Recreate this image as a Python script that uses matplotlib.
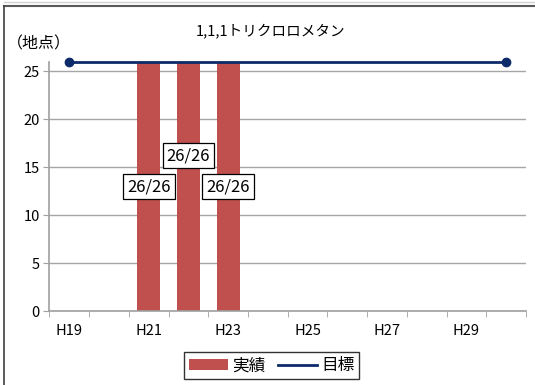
import numpy as np
import matplotlib
matplotlib.use('Agg')
import matplotlib.pyplot as plt
from matplotlib.lines import Line2D
from matplotlib.patches import Patch

plt.rcParams['font.family'] = ['Noto Sans CJK JP', 'DejaVu Sans']

years = ['H19', 'H20', 'H21', 'H22', 'H23', 'H24', 'H25', 'H26', 'H27', 'H28', 'H29', 'H30']
actual = [0, 0, 26, 26, 26, 0, 0, 0, 0, 0, 0, 0]
target = [26, 26, 26, 26, 26, 26, 26, 26, 26, 26, 26, 26]
bar_labels = ['', '', '26/26', '26/26', '26/26', '', '', '', '', '', '', '']
label_y = [0, 0, 13, 16.2, 13, 0, 0, 0, 0, 0, 0, 0]
tick_labels = ['H19', '', 'H21', '', 'H23', '', 'H25', '', 'H27', '', 'H29', '']

bar_color = '#C0504D'
line_color = '#0d2a6b'

fig = plt.figure(figsize=(5.35, 3.85), dpi=100)
ax = fig.add_axes([0.0925, 0.191, 0.8905, 0.649])

x = np.arange(len(years))
ax.bar(x, actual, width=0.58, color=bar_color, zorder=2)
ax.plot(x, target, color=line_color, lw=2, marker='o', markersize=6,
        markevery=[0, len(x) - 1], zorder=3, clip_on=False)

for xi, lab, ly in zip(x, bar_labels, label_y):
    if lab:
        ax.text(xi, ly, lab, ha='center', va='center', fontsize=12, zorder=4,
                bbox=dict(boxstyle='square,pad=0.25', fc='white', ec='black', lw=0.9))

ax.set_xlim(-0.5, len(x) - 0.5)
ax.set_ylim(0, 26)
ax.set_yticks([0, 5, 10, 15, 20, 25])
ax.set_xticks(x)
ax.set_xticklabels(tick_labels, fontsize=10.5)
ax.set_xticks(np.arange(-0.5, len(x)), minor=True)
ax.tick_params(axis='x', which='major', length=0, pad=9)
ax.tick_params(axis='x', which='minor', length=4, color='#a0a0a0', direction='out')
ax.tick_params(axis='y', length=4, color='#a0a0a0', labelsize=10.5, pad=3)
ax.grid(axis='y', color='#a6a6a6', lw=1, zorder=0)
for s in ['top', 'right']:
    ax.spines[s].set_visible(False)
for s in ['left', 'bottom']:
    ax.spines[s].set_color('#a0a0a0')
    ax.spines[s].set_linewidth(1.2)

fig.text(0.505, 0.92, '1,1,1トリクロロメタン', ha='center', va='center', fontsize=10.5)
fig.text(0.012, 0.885, '（地点）', ha='left', va='center', fontsize=11.5)

handles = [Patch(facecolor=bar_color, edgecolor='none'),
           Line2D([], [], color=line_color, lw=2)]
leg = fig.legend(handles, ['実績', '目標'], loc='center', bbox_to_anchor=(0.508, 0.0495),
                 ncol=2, fontsize=12, frameon=True, fancybox=False, handlelength=2.3,
                 handleheight=0.6, handletextpad=0.25, columnspacing=0.8, borderpad=0.3)
leg.get_frame().set_edgecolor('black')
leg.get_frame().set_linewidth(1)

# outer border (top and left)
fig.add_artist(Line2D([0.008, 1.0], [0.985, 0.985], color='#595959', lw=1.5))
fig.add_artist(Line2D([0.008, 1.0], [0.994, 0.994], color='#d0d0d0', lw=1))
fig.add_artist(Line2D([0.008, 0.008], [0.0, 0.985], color='#404040', lw=1.2))

fig.savefig('out.png', dpi=100)
